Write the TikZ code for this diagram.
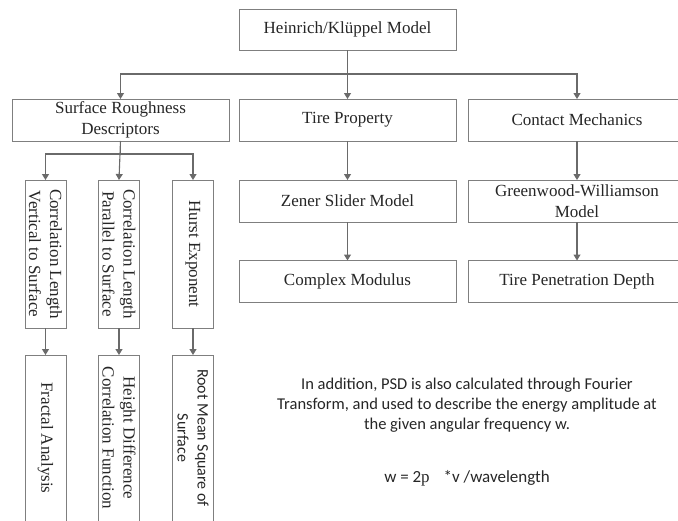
\documentclass[tikz,border=0pt]{standalone}
\usepackage{fontspec}
\setmainfont{Liberation Serif}
\newfontfamily\calibrifont{Carlito}
\usetikzlibrary{arrows.meta}
\definecolor{boxgray}{HTML}{7F7F7F}
\definecolor{arrowgray}{HTML}{6A6A6A}
\definecolor{txtgray}{HTML}{262626}

\begin{document}
\begin{tikzpicture}[x=1pt, y=-1pt,
    box/.style={draw=boxgray, fill=white, line width=0.9pt, inner sep=0pt, outer sep=0pt,
      align=center, text=txtgray, font=\fontsize{17}{21}\selectfont},
    hbox/.style={box, minimum width=217pt, minimum height=42pt},
    vbox/.style={box, rotate=-90, minimum height=41pt},
    link/.style={draw=arrowgray, line width=1.1pt, -{Triangle[width=7pt,length=6pt]}}]
  \useasboundingbox (0,0) rectangle (678,520);
  \clip (0,0) rectangle (678,520);

  % ==== TOP BOX ====
  \node[hbox, minimum height=41pt] (model) at (347.5,29.5) {Heinrich/Klüppel Model};

  % ==== SECOND ROW ====
  \node[hbox] (rough) at (120.5,120) {Surface Roughness\\Descriptors};
  \node[hbox] (tire) at (347.5,120) {Tire Property};
  \node[hbox] (contact) at (577,120) {Contact Mechanics};

  % ==== MIDDLE COLUMN AND RIGHT COLUMN ====
  \node[hbox] (zener) at (347.5,201) {Zener Slider Model};
  \node[hbox] (gw) at (577,201) {Greenwood-Williamson\\Model};
  \node[hbox] (modulus) at (347.5,281.5) {Complex Modulus};
  \node[hbox] (depth) at (577,281.5) {Tire Penetration Depth};

  % ==== ROUGHNESS DESCRIPTORS (text runs downwards: west = top, east = bottom) ====
  \node[vbox, minimum width=148pt] (corrv) at (45.5,254) {Correlation Length\\Vertical to Surface};
  \node[vbox, minimum width=148pt] (corrp) at (119,254) {Correlation Length\\Parallel to Surface};
  \node[vbox, minimum width=148pt] (hurst) at (193,254) {Hurst Exponent};
  \node[vbox, minimum width=166pt] (fractal) at (45.5,438) {Fractal Analysis};
  \node[vbox, minimum width=166pt] (hdcf) at (119,438) {Height Difference\\Correlation Function};
  \node[vbox, minimum width=166pt, font=\calibrifont\fontsize{16}{20}\selectfont] (rms) at (193,438) {Root Mean Square of\\Surface};

  % ==== CONNECTORS ====
  \draw[link] (model) -- (tire);
  \draw[link] (model.south) -- ++(0,24) -| (rough.north);
  \draw[link] (model.south) -- ++(0,24) -| (contact.north);
  \draw[link] (tire) -- (zener);
  \draw[link] (zener) -- (modulus);
  \draw[link] (contact) -- (gw);
  \draw[link] (gw) -- (depth);
  \draw[link] (rough.south) -- ++(0,13) -| (corrv.west);
  \draw[link] (rough.south) -- (corrp.west);
  \draw[link] (rough.south) -- ++(0,13) -| (hurst.west);
  \draw[link] (corrv.east) -- (fractal.west);
  \draw[link] (corrp.east) -- (hdcf.west);
  \draw[link] (hurst.east) -- (rms.west);

  % ==== PSD NOTE ====
  \node[align=center, text=txtgray, font=\calibrifont\fontsize{16.5}{20}\selectfont] (note) at (467,405)
    {In addition, PSD is also calculated through Fourier\\
     Transform, and used to describe the energy amplitude at\\
     the given angular frequency w.};
  \node[text=txtgray, font=\calibrifont\fontsize{17}{20}\selectfont] (omega) at (467,478)
    {w = 2{\rmfamily p}\hspace{14pt}*v /wavelength};
\end{tikzpicture}
\end{document}
